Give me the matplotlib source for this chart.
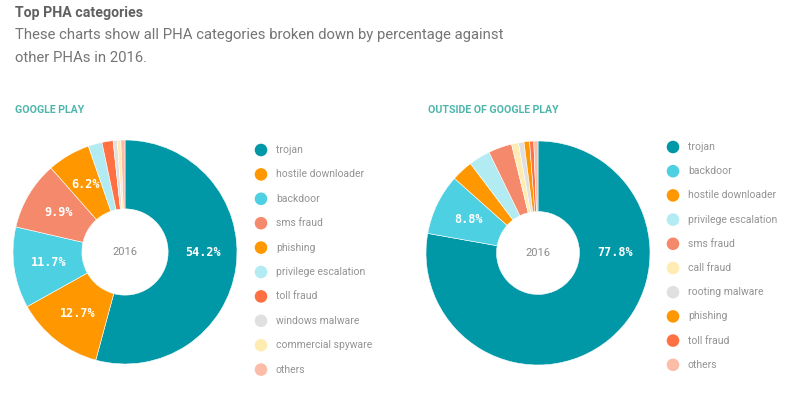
import matplotlib
matplotlib.use("Agg")
import matplotlib.pyplot as plt
import numpy as np

plt.rcParams["font.family"] = ["Roboto", "DejaVu Sans"]

W, H = 798, 397

# Google Play
gp_labels = ["trojan", "hostile downloader", "backdoor", "sms fraud", "phishing",
             "privilege escalation", "toll fraud", "windows malware",
             "commercial spyware", "others"]
gp_values = [54.2, 12.7, 11.7, 9.9, 6.2, 2.0, 1.6, 0.6, 0.5, 0.6]
gp_colors = ["#0097A7", "#FF9800", "#4DD0E1", "#F4896B", "#FF9800",
             "#B2EBF2", "#FF7043", "#E0E0E0", "#FFECB3", "#FBBCA8"]

# Outside of Google Play
out_labels = ["trojan", "backdoor", "hostile downloader", "privilege escalation",
              "sms fraud", "call fraud", "rooting malware", "phishing",
              "toll fraud", "others"]
out_values = [77.8, 8.8, 3.1, 3.1, 3.4, 1.0, 0.8, 0.8, 0.6, 0.6]
out_colors = ["#0097A7", "#4DD0E1", "#FF9800", "#B2EBF2", "#F4896B",
              "#FFECB3", "#E0E0E0", "#FF9800", "#FF7043", "#FBBCA8"]

fig = plt.figure(figsize=(W / 100, H / 100), dpi=100)


def px_axes(cx, cy, r):
    return fig.add_axes([(cx - r) / W, 1 - (cy + r) / H, 2 * r / W, 2 * r / H])


def donut(cx, cy, r, hole, values, colors):
    ax = px_axes(cx, cy, r)
    wedges, _ = ax.pie(values, colors=colors, startangle=90, counterclock=False,
                       radius=1.0, wedgeprops=dict(width=1 - hole, edgecolor="white",
                                                   linewidth=0.4))
    mid = (1 + hole) / 2
    for w, v in zip(wedges, values):
        if v < 6:
            continue
        t1, t2 = sorted((w.theta1, w.theta2))
        ang = (t1 + t2) / 2
        # large slices that cross the right horizontal get their label there
        if v > 50 and (t1 <= 0 <= t2 or t1 <= 360 <= t2):
            ang = 0.0
        a = np.deg2rad(ang)
        ax.text(mid * np.cos(a), mid * np.sin(a), f"{v:.1f}%", color="white",
                ha="center", va="center", fontsize=8.5, fontweight="bold",
                family="DejaVu Sans Mono")
    ax.text(0, 0, "2016", ha="center", va="center", fontsize=8, color="#8a8a8a")
    ax.set_xlim(-1, 1)
    ax.set_ylim(-1, 1)
    ax.set_aspect("equal")
    ax.axis("off")


donut(125, 252, 112, 0.385, gp_values, gp_colors)
donut(538, 253, 112, 0.37, out_values, out_colors)

# overlay for text and legends in pixel coordinates
ov = fig.add_axes([0, 0, 1, 1], zorder=-1)
ov.set_xlim(0, W)
ov.set_ylim(H, 0)
ov.axis("off")

ov.text(15, 13, "Top PHA categories", fontsize=10.2, fontweight="bold",
        color="#616161", va="center")
ov.text(15, 35, "These charts show all PHA categories broken down by percentage against",
        fontsize=10.7, color="#757575", va="center")
ov.text(15, 58, "other PHAs in 2016.", fontsize=10.7, color="#757575", va="center")
ov.text(15, 110, "GOOGLE PLAY", fontsize=7.6, fontweight="bold", color="#4DB6AC", va="center")
ov.text(428, 110, "OUTSIDE OF GOOGLE PLAY", fontsize=7.6, fontweight="bold",
        color="#4DB6AC", va="center")


def legend(x, y0, step, labels, colors):
    for i, (lab, col) in enumerate(zip(labels, colors)):
        y = y0 + i * step
        ov.scatter([x], [y], s=82, color=col, edgecolors="none")
        ov.text(x + 15, y, lab, fontsize=7.5, color="#939393", va="center")


legend(261, 150, 24.4, gp_labels, gp_colors)
legend(673, 147, 24.2, out_labels, out_colors)

fig.savefig("out.png", dpi=100)
